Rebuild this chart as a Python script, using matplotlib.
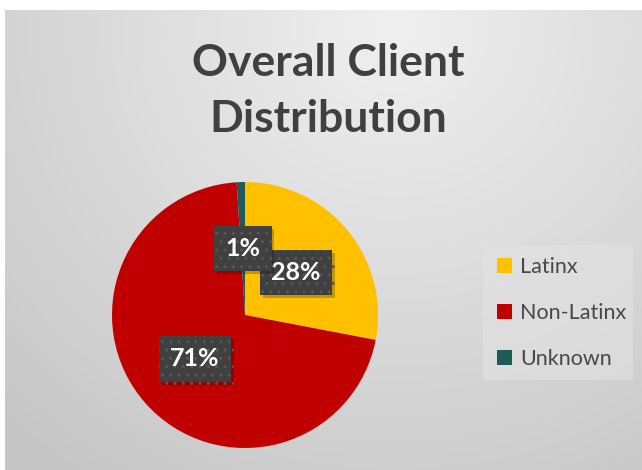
import numpy as np
import matplotlib
matplotlib.use("Agg")
import matplotlib.pyplot as plt
import matplotlib.patheffects as pe

categories = ["Latinx", "Non-Latinx", "Unknown"]
values = [28, 71, 1]
pct_labels = ["28%", "71%", "1%"]
colors = ["#FFC000", "#C00000", "#1E5B58"]
title = "Overall Client\nDistribution"

W, H = 642, 470
fig = plt.figure(figsize=(W / 100, H / 100), dpi=100)
fig.patch.set_facecolor("white")

# background gradient panel
bg = fig.add_axes([5 / W, 0, 637 / W, 460 / H])
bg.set_axis_off()
yy, xx = np.mgrid[0:460, 0:637]
d = np.sqrt(((xx - 390) / 1.0) ** 2 + ((yy - 20) / 0.95) ** 2)
t = np.clip(d / 560, 0, 1)
g = 0.94 - 0.16 * t
img = np.dstack([g, g, g])
bg.imshow(img, extent=[0, 1, 0, 1], aspect="auto", interpolation="bilinear")
bg.set_xlim(0, 1)
bg.set_ylim(0, 1)

fig.text(328 / W, 1 - 91 / H, title, ha="center", va="center",
         fontsize=32, fontweight="bold", color="#404040", family="Lato",
         linespacing=1.5)

# pie
cx, cy, r = 245, 470 - 315, 133
ax = fig.add_axes([(cx - r) / W, (cy - r) / H, 2 * r / W, 2 * r / H])
ax.set_axis_off()
wedges, texts, autotexts = ax.pie(
    values, colors=colors, startangle=90, counterclock=False,
    autopct=lambda p: "", pctdistance=0.5, radius=1,
    wedgeprops=dict(linewidth=0))
ax.set_xlim(-1, 1)
ax.set_ylim(-1, 1)
for at, lab in zip(autotexts, pct_labels):
    at.set_text(lab)
    at.set_color("white")
    at.set_fontsize(18)
    at.set_fontweight("bold")
    at.set_family("Lato")
    at.set_bbox(dict(boxstyle="square,pad=0.45", fc="#404040", ec="#575757",
                     lw=0, hatch=".."))
    at.get_bbox_patch().set_path_effects(
        [pe.SimplePatchShadow(offset=(2, -2), shadow_rgbFace="#000000", alpha=0.22), pe.Normal()])

# legend box
lax = fig.add_axes([483 / W, (470 - 380) / H, 150 / W, 135 / H])
lax.set_axis_off()
lax.add_patch(plt.Rectangle((0, 0), 1, 1, transform=lax.transAxes,
                            fc="#E2E2E2", ec="none", alpha=0.6))
leg = fig.legend(
    [plt.Rectangle((0, 0), 1, 1, fc=c, ec="none") for c in colors], categories,
    loc="center left", bbox_to_anchor=(478 / W, 1 - 313 / H), frameon=False,
    prop=dict(family="Lato", size=15.5), labelcolor="#484848",
    handlelength=0.7, handleheight=0.7, handletextpad=0.35, labelspacing=1.2)

fig.savefig("out.png", dpi=100)
